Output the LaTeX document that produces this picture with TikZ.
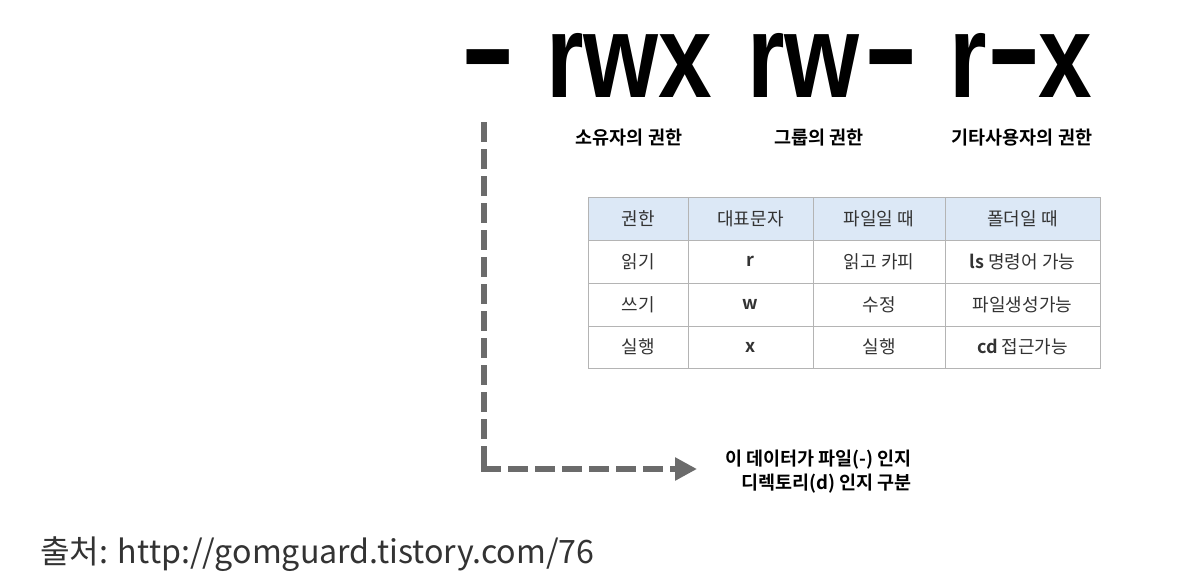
\documentclass[tikz,border=0pt]{standalone}
\usepackage{fontspec}
\setmainfont{Liberation Sans}
\newfontfamily\kr[BoldFont={Noto Sans CJK KR Bold}]{Noto Sans CJK KR}
\usetikzlibrary{arrows.meta}
\definecolor{dashgray}{HTML}{6B6B6B}
\definecolor{txtgray}{HTML}{333333}
\definecolor{hdrblue}{HTML}{DCE8F6}
\definecolor{gridgray}{HTML}{B4B4B4}
\newcommand{\permhy}{\raisebox{8pt}{\scalebox{1.4}[1.05]{-}}}
\newcommand{\permlt}[1]{\scalebox{0.81}[1]{#1}}
\begin{document}
\begin{tikzpicture}[x=1pt,y=-1pt,
  big/.style={font=\fontsize{119}{119}\selectfont\bfseries, inner sep=0, anchor=base west},
  sub/.style={font=\kr\bfseries\fontsize{18.5}{20}\selectfont, inner sep=0, text=black},
  cell/.style={font=\kr\fontsize{18}{20}\selectfont, inner sep=0, text=txtgray},
  dashline/.style={draw=dashgray, line width=6pt, dash pattern=on 20pt off 7pt},
]
\useasboundingbox (0,0) rectangle (1184,584);
\fill[white] (0,0) rectangle (1184,584);

% big permission string
\node[big] (t0) at (460,97) {\permhy};
\node[big] (t1) at (546,97) {\permlt{rwx}};
\node[big] (t2) at (747,97) {\permlt{rw}\kern4pt\permhy};
\node[big] (t3) at (949,97) {\permlt{r}\permhy\kern-4pt\permlt{x}};

% subtitles
\node[sub] (s1) at (629,138) {소유자의 권한};
\node[sub] (s2) at (819,138) {그룹의 권한};
\node[sub] (s3) at (1022,138) {기타사용자의 권한};

% table
\fill[hdrblue] (588,197) rectangle (1100,240);
\draw[gridgray, line width=1pt]
  (588,197) rectangle (1100,368)
  (588,240) -- (1100,240)
  (588,283) -- (1100,283)
  (588,326) -- (1100,326)
  (688,197) -- (688,368)
  (813,197) -- (813,368)
  (945,197) -- (945,368);

\node[cell] (h1) at (638,218.5) {권한};
\node[cell] (h2) at (750.5,218.5) {대표문자};
\node[cell] (h3) at (879,218.5) {파일일 때};
\node[cell] (h4) at (1022.5,218.5) {폴더일 때};

\node[cell] (a1) at (638,261.5) {읽기};
\node[cell] (a2) at (750.5,261.5) {\bfseries r};
\node[cell] (a3) at (879,261.5) {읽고 카피};
\node[cell] (a4) at (1022.5,261.5) {{\bfseries ls} 명령어 가능};

\node[cell] (b1) at (638,304.5) {쓰기};
\node[cell] (b2) at (750.5,304.5) {\bfseries w};
\node[cell] (b3) at (879,304.5) {수정};
\node[cell] (b4) at (1022.5,304.5) {파일생성가능};

\node[cell] (c1) at (638,347) {실행};
\node[cell] (c2) at (750.5,347) {\bfseries x};
\node[cell] (c3) at (879,347) {실행};
\node[cell] (c4) at (1022.5,347) {{\bfseries cd} 접근가능};

% dashed connector
\coordinate (vtop) at (484,122);
\coordinate (corner) at (484,469);
\coordinate (hstart) at (481,469);
\node[sub, anchor=east, align=right, font=\kr\bfseries\fontsize{18.5}{24}\selectfont] (desc) at (912,472) {이 데이터가 파일(-) 인지\\디렉토리(d) 인지 구분};
\coordinate (tip) at (697,469);
\draw[dashline] (vtop) -- (corner);
\draw[dashline, -{Triangle[length=22pt,width=22pt]}] (hstart) -- (tip);

% source caption
\node[font=\kr\fontsize{32.2}{36}\selectfont, text=txtgray, anchor=base west, inner sep=0] (src) at (40,563) {출처: http://gomguard.tistory.com/76};
\end{tikzpicture}
\end{document}
